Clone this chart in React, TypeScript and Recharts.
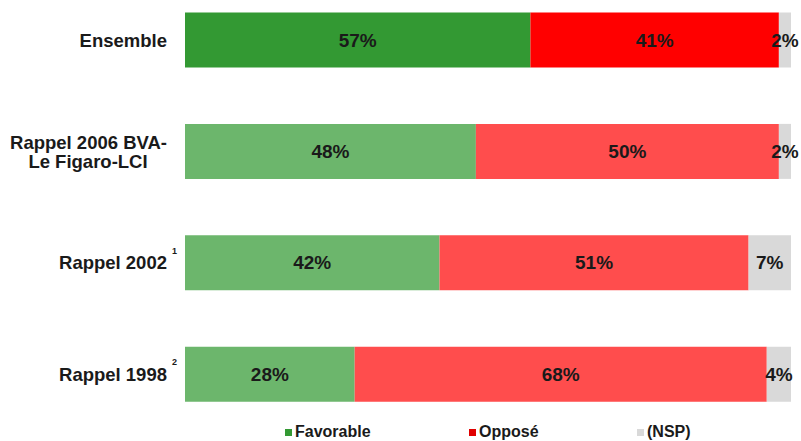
import React from 'react';
import { BarChart, Bar, XAxis, YAxis, LabelList, Cell, Legend } from 'recharts';

const categories = ['Ensemble', 'Rappel 2006 BVA-\nLe Figaro-LCI', 'Rappel 2002', 'Rappel 1998'];
const superscripts = ['', '', '1', '2'];
const favorable = [57, 48, 42, 28];
const oppose = [41, 50, 51, 68];
const nsp = [2, 2, 7, 4];
const seriesNames = ['Favorable', 'Opposé', '(NSP)'];

const favColors = ['#339933', '#6cb66c', '#6cb66c', '#6cb66c'];
const oppColors = ['#ff0000', '#ff4d4d', '#ff4d4d', '#ff4d4d'];
const nspColors = ['#d9d9d9', '#d9d9d9', '#d9d9d9', '#d9d9d9'];
const legendColors = ['#339933', '#e00000', '#d9d9d9'];
const legendLeft = [285, 469, 637];

const FONT = '"Liberation Sans", Arial, sans-serif';

const data = categories.map((c, i) => ({
  name: c,
  fav: favorable[i],
  opp: oppose[i],
  nsp: nsp[i],
}));

const Tick = (props: any) => {
  const { x, y, payload } = props;
  const idx = payload.index;
  const lines = String(payload.value).split('\n');
  const right = x - 18;
  const sup = superscripts[idx];
  const common = { fontFamily: FONT, fontWeight: 700, fontSize: 18.5, fill: '#1a1a1a' } as any;
  if (lines.length > 1) {
    const cx = right - 79;
    return (
      <g>
        <text x={right} y={y - 3} textAnchor="end" {...common}>{lines[0]}</text>
        <text x={cx} y={y + 16} textAnchor="middle" {...common}>{lines[1]}</text>
      </g>
    );
  }
  return (
    <g>
      <text x={right} y={y + 6.5} textAnchor="end" {...common}>{lines[0]}</text>
      {sup ? (
        <text x={right + 5} y={y - 9} textAnchor="start" fontFamily={FONT} fontWeight={700} fontSize={9} fill="#1a1a1a">{sup}</text>
      ) : null}
    </g>
  );
};

const renderLegend = (props: any) => {
  const payload = [...(props.payload || [])].sort(
    (a: any, b: any) => seriesNames.indexOf(a.value) - seriesNames.indexOf(b.value)
  );
  return (
    <div style={{ position: 'relative', width: 801, height: 11 }}>
      {payload.map((entry: any, i: number) => (
        <div
          key={entry.value}
          style={{
            position: 'absolute',
            left: legendLeft[i],
            top: -7,
            display: 'flex',
            alignItems: 'center',
            whiteSpace: 'nowrap',
            fontFamily: FONT,
            fontWeight: 700,
            fontSize: 16,
            lineHeight: '18px',
            color: '#1a1a1a',
          }}
        >
          <span style={{ display: 'inline-block', width: 7, height: 7, background: entry.color, marginRight: 3 }} />
          {entry.value}
        </div>
      ))}
    </div>
  );
};

const labelStyle = { fontFamily: FONT, fontWeight: 700, fontSize: 19 } as any;
const fmt = (v: any) => `${v}%`;

export default function App() {
  return (
    <div style={{ position: 'absolute', left: 0, top: 0, width: 801, height: 441, background: '#fff' }}>
      <BarChart
        width={801}
        height={441}
        data={data}
        layout="vertical"
        margin={{ top: -15.5, right: 10, bottom: 0, left: 0 }}
        barSize={55}
      >
        <XAxis type="number" domain={[0, 100]} hide />
        <YAxis
          type="category"
          dataKey="name"
          width={185}
          axisLine={false}
          tickLine={false}
          tickSize={0}
          tickMargin={0}
          tick={<Tick />}
          interval={0}
        />
        <Legend
          verticalAlign="bottom"
          content={renderLegend}
          wrapperStyle={{ left: 0, width: 801, height: 11 }}
        />
        <Bar dataKey="fav" name={seriesNames[0]} stackId="a" fill={legendColors[0]} isAnimationActive={false}>
          {data.map((_, i) => <Cell key={i} fill={favColors[i]} />)}
          <LabelList dataKey="fav" position="center" formatter={fmt} fill="#1a1a1a" style={labelStyle} />
        </Bar>
        <Bar dataKey="opp" name={seriesNames[1]} stackId="a" fill={legendColors[1]} isAnimationActive={false}>
          {data.map((_, i) => <Cell key={i} fill={oppColors[i]} />)}
          <LabelList dataKey="opp" position="center" formatter={fmt} fill="#1a1a1a" style={labelStyle} />
        </Bar>
        <Bar dataKey="nsp" name={seriesNames[2]} stackId="a" fill={legendColors[2]} isAnimationActive={false}>
          {data.map((_, i) => <Cell key={i} fill={nspColors[i]} />)}
          <LabelList dataKey="nsp" position="center" formatter={fmt} fill="#1a1a1a" style={labelStyle} />
        </Bar>
      </BarChart>
    </div>
  );
}
